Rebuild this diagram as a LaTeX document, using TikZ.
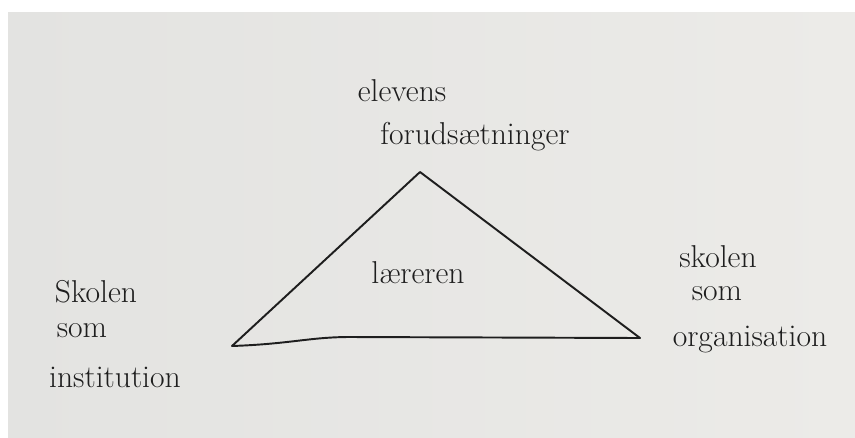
\documentclass[tikz,border=0pt]{standalone}
\usepackage{fontspec}
\usepackage{tikz}
\definecolor{paper}{HTML}{E3E3E1}
\definecolor{paperlight}{HTML}{ECEBE8}
\definecolor{ink}{HTML}{1E1E1E}
\tikzset{
  pen/.style={draw=ink,line width=1.1pt,line join=round,line cap=round},
  word/.style={text=ink,font=\fontsize{18}{22}\selectfont,inner sep=0pt,anchor=base}
}
\begin{document}
\begin{tikzpicture}[x=0.02cm,y=-0.02cm]
          \useasboundingbox (0,0) rectangle (855,437);
          \fill[white] (0,0) rectangle (855,437);
          \shade[left color=paper,right color=paperlight] (8,12) rectangle (855,437);
          % corners of the triangle
          \coordinate (top) at (420,172);
          \coordinate (left) at (232,346);
          \coordinate (right) at (640,338);
          \draw[pen] (left)--(top)--(right);
          \draw[pen] (left) .. controls (290,344) and (310,337) .. (350,337)--(right);
          % texts
          \node[word] (elevens) at (402,101) {elevens};
          \node[word] (forudsaet) at (475,144) {forudsætninger};
          \node[word] (laereren) at (418,283) {læreren};
          \node[word] (skolenA) at (96,302) {Skolen};
          \node[word] (somA) at (82,337) {som};
          \node[word] (institution) at (115,387) {institution};
          \node[word] (skolenB) at (718,267) {skolen};
          \node[word] (somB) at (717,300) {som};
          \node[word] (organisation) at (750,346) {organisation};
    \end{tikzpicture}
\end{document}
